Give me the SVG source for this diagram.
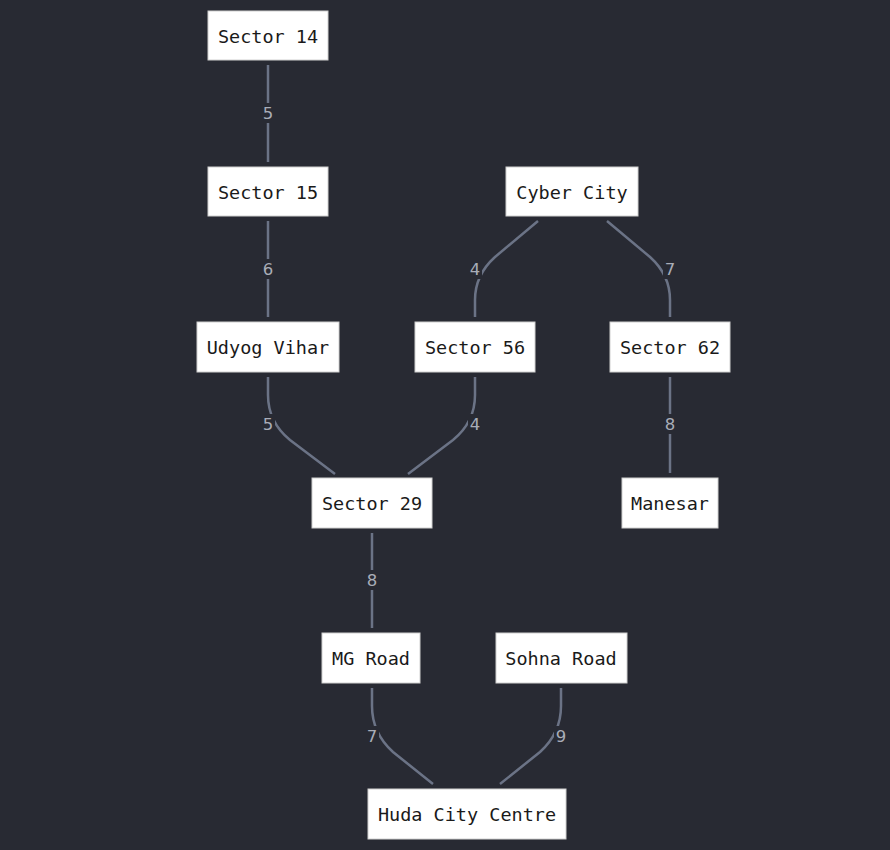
<svg xmlns="http://www.w3.org/2000/svg" width="890" height="850" viewBox="0 0 890 850">
  <style>
    .node rect { fill: #ffffff; stroke: #d0d0d0; stroke-width: 1; }
    .node text { font-family: "DejaVu Sans Mono", "Liberation Mono", monospace; font-size: 18.5px; fill: #1a1a1a; text-anchor: middle; dominant-baseline: central; }
    .edge { fill: none; stroke: #6b7386; stroke-width: 2.5; }
    .lbl-bg { fill: #282a33; }
    .lbl { font-family: "DejaVu Sans", "Liberation Sans", sans-serif; font-size: 16.5px; fill: #a9adb8; text-anchor: middle; dominant-baseline: central; }
  </style>
  <rect width="890" height="850" fill="#282a33"/>

  <g id="connectors">
    <path class="edge" d="M268,65 L268,162"/>
    <path class="edge" d="M268,221 L268,317"/>
    <path class="edge" d="M538,221 L495,257 Q475,275 475,300 L475,317"/>
    <path class="edge" d="M607,221 L650,257 Q670,275 670,300 L670,317"/>
    <path class="edge" d="M268,377 L268,395 Q268,422 290,440 L335,474"/>
    <path class="edge" d="M475,377 L475,395 Q475,422 453,440 L408,474"/>
    <path class="edge" d="M670,377 L670,473"/>
    <path class="edge" d="M372,533 L372,628"/>
    <path class="edge" d="M372,688 L372,706 Q372,733 393,752 L433,784"/>
    <path class="edge" d="M561,688 L561,706 Q561,733 540,752 L500,784"/>

    <rect class="lbl-bg" x="261" y="103" width="14" height="20"/>
    <text class="lbl" x="268" y="113">5</text>
    <rect class="lbl-bg" x="261" y="259" width="14" height="20"/>
    <text class="lbl" x="268" y="269">6</text>
    <rect class="lbl-bg" x="468" y="259" width="14" height="20"/>
    <text class="lbl" x="475" y="269">4</text>
    <rect class="lbl-bg" x="663" y="259" width="14" height="20"/>
    <text class="lbl" x="670" y="269">7</text>
    <rect class="lbl-bg" x="261" y="414" width="14" height="20"/>
    <text class="lbl" x="268" y="424">5</text>
    <rect class="lbl-bg" x="468" y="414" width="14" height="20"/>
    <text class="lbl" x="475" y="424">4</text>
    <rect class="lbl-bg" x="663" y="414" width="14" height="20"/>
    <text class="lbl" x="670" y="424">8</text>
    <rect class="lbl-bg" x="365" y="570" width="14" height="20"/>
    <text class="lbl" x="372" y="580">8</text>
    <rect class="lbl-bg" x="365" y="726" width="14" height="20"/>
    <text class="lbl" x="372" y="736">7</text>
    <rect class="lbl-bg" x="554" y="726" width="14" height="20"/>
    <text class="lbl" x="561" y="736">9</text>
  </g>

  <g id="sector14" class="node"><rect x="208" y="11" width="120" height="49"/><text x="268" y="36">Sector 14</text></g>
  <g id="sector15" class="node"><rect x="208" y="167" width="120" height="49"/><text x="268" y="192">Sector 15</text></g>
  <g id="cybercity" class="node"><rect x="506" y="167" width="132" height="49"/><text x="572" y="192">Cyber City</text></g>
  <g id="udyogvihar" class="node"><rect x="197" y="322" width="142" height="50"/><text x="268" y="347">Udyog Vihar</text></g>
  <g id="sector56" class="node"><rect x="415" y="322" width="120" height="50"/><text x="475" y="347">Sector 56</text></g>
  <g id="sector62" class="node"><rect x="610" y="322" width="120" height="50"/><text x="670" y="347">Sector 62</text></g>
  <g id="sector29" class="node"><rect x="312" y="478" width="120" height="50"/><text x="372" y="503">Sector 29</text></g>
  <g id="manesar" class="node"><rect x="622" y="478" width="96" height="50"/><text x="670" y="503">Manesar</text></g>
  <g id="mgroad" class="node"><rect x="322" y="633" width="98" height="50"/><text x="371" y="658">MG Road</text></g>
  <g id="sohnaroad" class="node"><rect x="496" y="633" width="131" height="50"/><text x="561" y="658">Sohna Road</text></g>
  <g id="hudacitycentre" class="node"><rect x="368" y="789" width="198" height="50"/><text x="467" y="814">Huda City Centre</text></g>
</svg>
